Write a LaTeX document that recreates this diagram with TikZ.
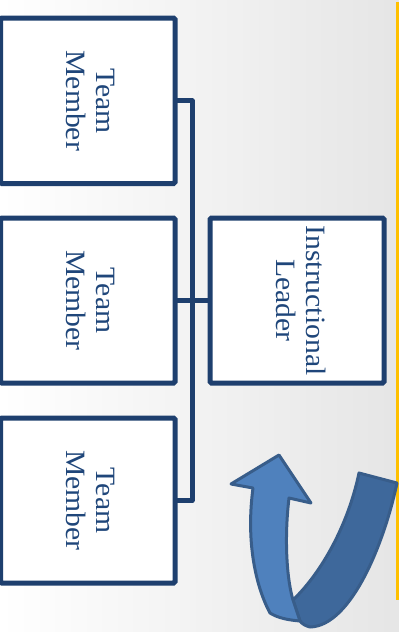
\documentclass[tikz,border=0pt]{standalone}
\usepackage{fontspec}
\setmainfont{Liberation Serif}
\definecolor{boxblue}{RGB}{30,63,110}
\definecolor{txtblue}{RGB}{31,70,122}
\definecolor{arrlight}{RGB}{79,129,189}
\definecolor{arrdark}{RGB}{62,104,155}
\definecolor{arrline}{RGB}{56,93,138}
\definecolor{goldline}{RGB}{255,192,0}
\newcommand{\vtext}[1]{\rotatebox{-90}{\scalebox{1.06}[1]{\fontsize{28}{30}\selectfont\begin{tabular}{@{}c@{}}#1\end{tabular}}}}
\begin{document}
\begin{tikzpicture}[x=1pt,y=-1pt,
  orgbox/.style={draw=boxblue,fill=white,line width=5pt,rounded corners=1.5pt,
    inner sep=0pt,outer sep=0pt,text=txtblue,minimum width=#1},
  orgbox/.default=174.5pt,
  conn/.style={draw=boxblue,line width=5pt,line join=round},
  arrowpart/.style={draw=arrline,line width=3pt,line join=round}]
\useasboundingbox (0,0) rectangle (399,632);
\shade[left color=white,right color=gray!20] (0,0) rectangle (399,632);
\fill[goldline] (396,2) rectangle (400,600);
% boxes
\node[orgbox,minimum height=165.5pt] (m1) at (87.75,100.75) {\vtext{Team\\Member}};
\node[orgbox,minimum height=165pt] (m2) at (87.75,300.5) {\vtext{Team\\Member}};
\node[orgbox,minimum height=165pt] (m3) at (87.75,500.5) {\vtext{Team\\Member}};
\node[orgbox=174pt,minimum height=165pt] (lead) at (297,300.5) {\vtext{Instructional\\Leader}};
\coordinate (bus) at (192,0);
% connectors
\draw[conn] (m1.east) -- (m1.east -| bus) -- (m3.east -| bus) -- (m3.east);
\draw[conn] (m2.east) -- (lead.west);
% curved arrow: dark ribbon
\path[arrowpart,fill=arrdark] (359,473) -- (397,483)
  .. controls (385,540) and (352,626) .. (310,627)
  .. controls (306,626) and (302,624) .. (300,621)
  -- (293,600)
  .. controls (322,572) and (348,525) .. (359,473) -- cycle;
% curved arrow: light shaft with head
\path[arrowpart,fill=arrlight] (279,455) -- (311,503) -- (289,498)
  .. controls (284,540) and (287,580) .. (293,600)
  -- (300,621)
  .. controls (288,620) and (278,618) .. (270,613)
  .. controls (255,585) and (246,540) .. (253,488)
  -- (231,484) -- cycle;
\end{tikzpicture}
\end{document}
